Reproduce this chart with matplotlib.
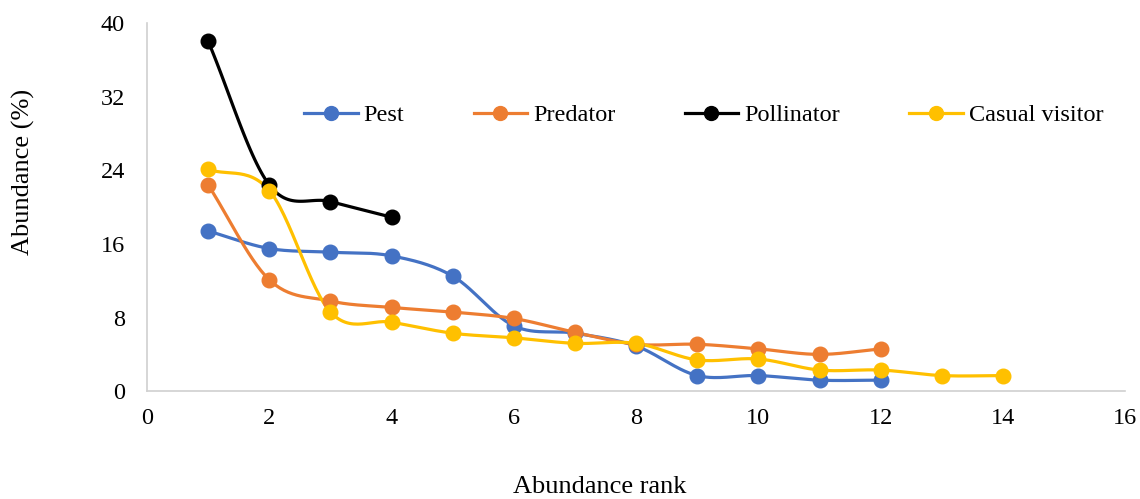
import numpy as np
import matplotlib
matplotlib.use("Agg")
import matplotlib.pyplot as plt

plt.rcParams['font.family'] = ['Liberation Serif', 'DejaVu Serif']

# abundance (%) by rank for each guild
pest_rank = [1, 2, 3, 4, 5, 6, 7, 8, 9, 10, 11, 12]
pest = [17.4, 15.5, 15.1, 14.7, 12.5, 7.1, 6.3, 4.9, 1.7, 1.7, 1.2, 1.2]

predator_rank = [1, 2, 3, 4, 5, 6, 7, 8, 9, 10, 11, 12]
predator = [22.4, 12.1, 9.8, 9.1, 8.6, 7.9, 6.4, 5.1, 5.1, 4.6, 4.0, 4.6]

pollinator_rank = [1, 2, 3, 4]
pollinator = [38.0, 22.4, 20.6, 18.9]

casual_rank = [1, 2, 3, 4, 5, 6, 7, 8, 9, 10, 11, 12, 13, 14]
casual = [24.1, 21.8, 8.6, 7.5, 6.3, 5.8, 5.2, 5.2, 3.4, 3.5, 2.3, 2.3, 1.7, 1.7]


def smooth(x, y, n=30):
    # Catmull-Rom style smoothing, similar to Excel's smoothed lines
    x = np.asarray(x, float)
    y = np.asarray(y, float)
    px = np.concatenate([[2 * x[0] - x[1]], x, [2 * x[-1] - x[-2]]])
    py = np.concatenate([[2 * y[0] - y[1]], y, [2 * y[-1] - y[-2]]])
    xs, ys = [], []
    t = np.linspace(0, 1, n)
    for i in range(1, len(px) - 2):
        p0, p1, p2, p3 = (np.array([px[j], py[j]]) for j in range(i - 1, i + 3))
        c1 = p1 + (p2 - p0) / 6
        c2 = p2 - (p3 - p1) / 6
        b = ((1 - t) ** 3)[:, None] * p1 + (3 * (1 - t) ** 2 * t)[:, None] * c1 \
            + (3 * (1 - t) * t ** 2)[:, None] * c2 + (t ** 3)[:, None] * p2
        xs.extend(b[:, 0])
        ys.extend(b[:, 1])
    return xs, ys


fig = plt.figure(figsize=(11.4, 4.99), dpi=100)
ax = fig.add_axes([0.129, 0.216, 0.858, 0.738])

series = [
    ("Pest", pest_rank, pest, "#4472C4"),
    ("Predator", predator_rank, predator, "#ED7D31"),
    ("Pollinator", pollinator_rank, pollinator, "#000000"),
    ("Casual visitor", casual_rank, casual, "#FFC000"),
]

handles = []
for name, xr, yv, col in series:
    sx, sy = smooth(xr, yv)
    ax.plot(sx, sy, color=col, lw=2.3, zorder=2)
    ax.plot(xr, yv, 'o', color=col, ms=10.5, zorder=3)
    h, = ax.plot([], [], color=col, lw=2.3, marker='o', ms=10, label=name)
    handles.append(h)

ax.set_xlim(0, 16)
ax.set_ylim(0, 40)
ax.set_xticks(range(0, 17, 2))
ax.set_yticks(range(0, 41, 8))
ax.tick_params(length=0, labelsize=17.5)
ax.tick_params(axis='x', pad=12)
ax.tick_params(axis='y', pad=16)
for s in ['top', 'right']:
    ax.spines[s].set_visible(False)
for s in ['left', 'bottom']:
    ax.spines[s].set_color('#D0D0D0')
    ax.spines[s].set_linewidth(1.2)

fig.text(0.021, 0.655, "Abundance (%)", fontsize=19, rotation=90,
         ha='center', va='center')
fig.text(0.526, 0.024, "Abundance rank", fontsize=19, ha='center', va='center')

ax.legend(handles=handles, ncol=4, frameon=False, fontsize=17.5,
          loc='center', bbox_to_anchor=(0.569, 0.75), handlelength=2.2,
          columnspacing=2.85, handletextpad=0.25, borderpad=0)

fig.savefig("out.png", dpi=100)
